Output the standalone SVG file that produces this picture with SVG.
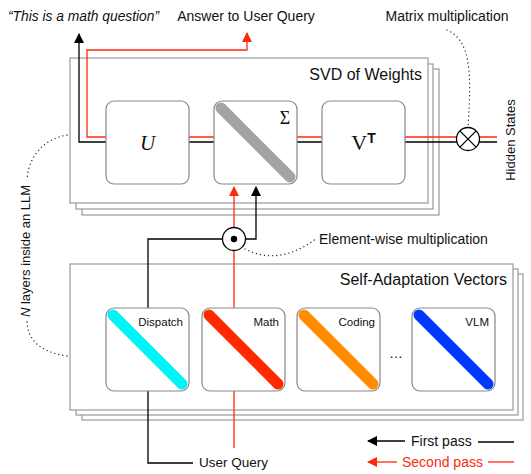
<svg xmlns="http://www.w3.org/2000/svg" width="531" height="474" viewBox="0 0 531 474">
<defs>
<style>
text{font-family:"Liberation Sans",Arial,sans-serif;fill:#111}
.panel{fill:#fff;stroke:#999;stroke-width:1.2}
.node{fill:#fff;stroke:#888;stroke-width:1.2}
.blk{fill:none;stroke:#000;stroke-width:1.3}
.red{fill:none;stroke:#ff2a0a;stroke-width:1.3}
.dot{fill:none;stroke:#222;stroke-width:1.3;stroke-dasharray:0.1 4;stroke-linecap:round}
.bar{stroke-width:11;stroke-linecap:round}
.serif{font-family:"Liberation Serif","Times New Roman",serif}
</style>
<marker id="ab" viewBox="0 0 10 10" refX="9" refY="5" markerWidth="10" markerHeight="10" markerUnits="userSpaceOnUse" orient="auto"><path d="M0,0 L10,5 L0,10 z" fill="#000"/></marker>
<marker id="ar" viewBox="0 0 10 10" refX="9" refY="5" markerWidth="10" markerHeight="10" markerUnits="userSpaceOnUse" orient="auto"><path d="M0,0 L10,5 L0,10 z" fill="#ff2a0a"/></marker>
</defs>
<rect width="531" height="474" fill="#fff"/>

<g id="svd-panel">
<rect class="panel" x="82" y="69" width="357" height="146"/>
<rect class="panel" x="76" y="64" width="357" height="145"/>
<rect class="panel" x="70" y="58" width="358" height="145"/>
<text x="422" y="80" font-size="16" text-anchor="end">SVD of Weights</text>
</g>

<g id="sav-panel">
<rect class="panel" x="82" y="274" width="441" height="146"/>
<rect class="panel" x="76" y="269" width="442" height="146"/>
<rect class="panel" x="70" y="264" width="443" height="146"/>
<text x="507" y="285" font-size="16" text-anchor="end">Self-Adaptation Vectors</text>
</g>

<g id="connectors">
<polyline class="blk" points="497,142 79,142 79,34" marker-end="url(#ab)"/>
<polyline class="red" points="497,137 87,137 87,50 247,50 247,33" marker-end="url(#ar)"/>
<polyline class="red" points="234,448 234,187" marker-end="url(#ar)"/>
<polyline class="blk" points="193,463 148,463 148,239 234,239"/>
<polyline class="blk" points="234,239 256,239 256,187" marker-end="url(#ab)"/>
<path class="dot" d="M447,30 C470,40 472,70 468,127"/>
<path class="dot" d="M245,249 C270,262 295,255 317,238"/>
<path class="dot" d="M67,135 C40,140 28,160 27,180"/>
<path class="dot" d="M27,322 C28,340 40,352 67,356"/>
</g>

<g id="node-U">
<rect class="node" x="106" y="101" width="83" height="83" rx="8"/>
<text class="serif" x="147.5" y="150" font-size="21" font-style="italic" text-anchor="middle">U</text>
</g>

<g id="node-Sigma">
<rect class="node" x="214" y="101" width="83" height="83" rx="8"/>
<line class="bar" x1="221" y1="108" x2="290" y2="177" stroke="#a3a3a3"/>
<text class="serif" x="285" y="124" font-size="18" text-anchor="middle">Σ</text>
</g>

<g id="node-V">
<rect class="node" x="322" y="101" width="83" height="83" rx="8"/>
<text class="serif" x="363.5" y="150" font-size="22" text-anchor="middle">V<tspan font-size="14" font-weight="bold" dy="-7" style="font-family:'Liberation Sans',Arial,sans-serif">T</tspan></text>
</g>

<g id="matmul">
<circle cx="468" cy="139" r="11.5" fill="#fff" stroke="#000" stroke-width="1.3"/>
<path d="M459.9,130.9 L476.1,147.1 M476.1,130.9 L459.9,147.1" stroke="#000" stroke-width="1.3"/>
</g>

<g id="elemmul">
<circle cx="234" cy="239" r="11.5" fill="#fff" stroke="#000" stroke-width="1.3"/>
<circle cx="234" cy="239" r="3.2" fill="#000"/>
</g>

<g id="node-Dispatch">
<rect class="node" x="106" y="308" width="83" height="83" rx="8"/>
<line class="bar" x1="113" y1="315" x2="182" y2="384" stroke="#00f4f4"/>
<text x="183" y="326" font-size="11.5" text-anchor="end">Dispatch</text>
</g>
<g id="node-Math">
<rect class="node" x="202" y="308" width="83" height="83" rx="8"/>
<line class="bar" x1="209" y1="315" x2="278" y2="384" stroke="#ff2a00"/>
<text x="279" y="326" font-size="11.5" text-anchor="end">Math</text>
</g>
<g id="node-Coding">
<rect class="node" x="297" y="308" width="83" height="83" rx="8"/>
<line class="bar" x1="304" y1="315" x2="373" y2="384" stroke="#ff8c00"/>
<text x="375" y="326" font-size="11.5" text-anchor="end">Coding</text>
</g>
<text x="396" y="358" font-size="14" text-anchor="middle">…</text>
<g id="node-VLM">
<rect class="node" x="412" y="308" width="83" height="83" rx="8"/>
<line class="bar" x1="419" y1="315" x2="488" y2="384" stroke="#0038ff"/>
<text x="489" y="326" font-size="11.5" text-anchor="end">VLM</text>
</g>

<g id="labels">
<text x="8" y="21" font-size="13.8" font-style="italic">“This is a math question”</text>
<text x="246" y="21" font-size="14" text-anchor="middle">Answer to User Query</text>
<text x="447" y="21" font-size="14" text-anchor="middle">Matrix multiplication</text>
<text x="319" y="244" font-size="14">Element-wise multiplication</text>
<text x="199" y="467" font-size="13.5">User Query</text>
<text transform="translate(515,140) rotate(-90)" font-size="13" text-anchor="middle">Hidden States</text>
<text transform="translate(30,251) rotate(-90)" font-size="13" text-anchor="middle"><tspan font-style="italic">N</tspan> layers inside an LLM</text>
</g>

<g id="legend">
<line class="blk" x1="405" y1="441" x2="368" y2="441" marker-end="url(#ab)"/>
<text x="411" y="446" font-size="14">First pass</text>
<line class="blk" x1="478" y1="442" x2="514" y2="442"/>
<line class="red" x1="397" y1="462" x2="368" y2="462" marker-end="url(#ar)"/>
<text x="402" y="467" font-size="14" style="fill:#ff2a0a">Second pass</text>
<line class="red" x1="488" y1="462" x2="514" y2="462"/>
</g>
</svg>
